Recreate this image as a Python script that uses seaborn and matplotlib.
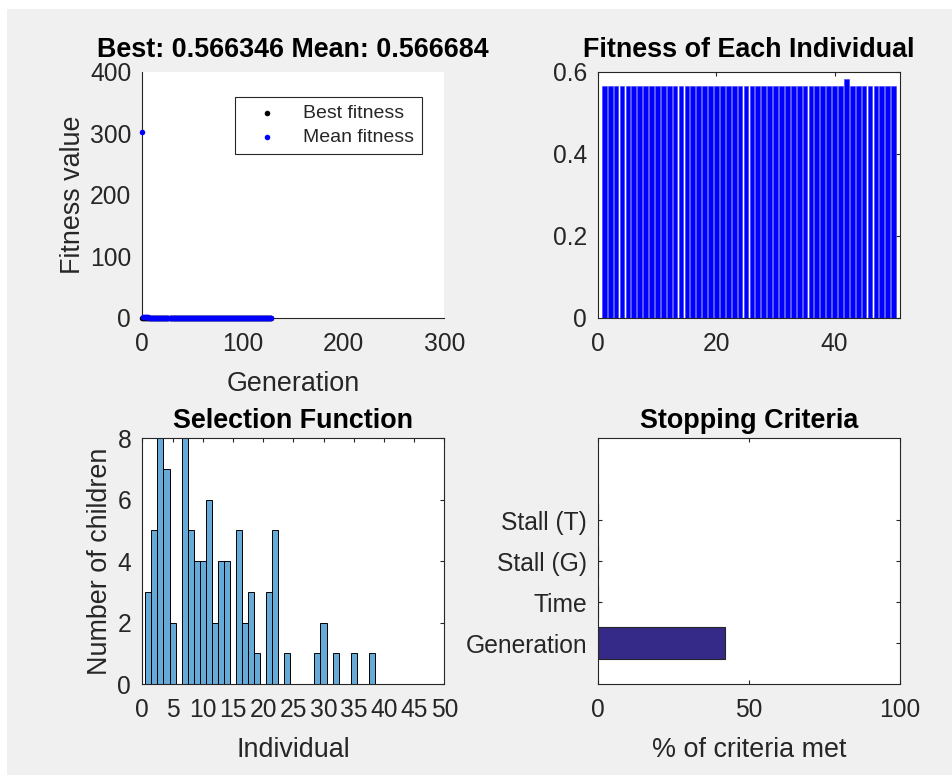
import matplotlib
matplotlib.use("Agg")
import matplotlib.pyplot as plt
from matplotlib.patches import Rectangle
import seaborn as sns

# ---- data ----
generation = list(range(0, 129))

best_fitness = [
    0.6734, 0.6412, 0.6189, 0.6051, 0.5963, 0.5902, 0.5857, 0.5821, 0.5794, 0.5772,
    0.5754, 0.5739, 0.5726, 0.5715, 0.5706, 0.5698, 0.5691, 0.5686, 0.5681, 0.5677,
    0.5674, 0.5672, 0.5670, 0.5669, 0.5668, 0.5667, 0.5666, 0.5665, 0.5665, 0.5664,
    0.5664, 0.5664, 0.5664, 0.5664, 0.5664, 0.5664, 0.5664, 0.5664, 0.5664, 0.5664,
    0.5664, 0.5664, 0.5664, 0.5664, 0.5664, 0.5664, 0.5664, 0.5664, 0.5664, 0.5664,
    0.5664, 0.5664, 0.5664, 0.5664, 0.5664, 0.5664, 0.5664, 0.5664, 0.5664, 0.5664,
    0.5663, 0.5663, 0.5663, 0.5663, 0.5663, 0.5663, 0.5663, 0.5663, 0.5663, 0.5663,
    0.5663, 0.5663, 0.5663, 0.5663, 0.5663, 0.5663, 0.5663, 0.5663, 0.5663, 0.5663,
    0.5663, 0.5663, 0.5663, 0.5663, 0.5663, 0.5663, 0.5663, 0.5663, 0.5663, 0.5663,
    0.5663, 0.5663, 0.5663, 0.5663, 0.5663, 0.5663, 0.5663, 0.5663, 0.5663, 0.5663,
    0.5663, 0.5663, 0.5663, 0.5663, 0.5663, 0.5663, 0.5663, 0.5663, 0.5663, 0.5663,
    0.5663, 0.5663, 0.5663, 0.5663, 0.5663, 0.5663, 0.5663, 0.5663, 0.5663, 0.5663,
    0.5663, 0.5663, 0.5663, 0.5663, 0.5663, 0.5663, 0.5663, 0.5663, 0.566346,
]

mean_fitness = [
    302.41, 1.874, 1.352, 1.118, 0.942, 0.851, 0.7913, 0.7494, 0.7126, 0.6741,
    0.6488, 0.6302, 0.6169, 0.6071, 0.5998, 0.5941, 0.5897, 0.5862, 0.5834, 0.5811,
    0.5793, 0.5778, 0.5765, 0.5754, 0.5745, 0.5737, 0.5731, 0.5725, 0.5720, 0.5716,
    0.5712, 0.5709, 0.5706, 0.5703, 0.5701, 0.5699, 0.5697, 0.5695, 0.5694, 0.5692,
    0.5691, 0.5690, 0.5689, 0.5688, 0.5687, 0.5686, 0.5685, 0.5684, 0.5683, 0.5682,
    0.5681, 0.5680, 0.5679, 0.5678, 0.5677, 0.5676, 0.5675, 0.5675, 0.5674, 0.5674,
    0.5673, 0.5673, 0.5672, 0.5672, 0.5671, 0.5671, 0.5671, 0.5670, 0.5670, 0.5670,
    0.5670, 0.5669, 0.5669, 0.5669, 0.5669, 0.5669, 0.5668, 0.5668, 0.5668, 0.5668,
    0.5668, 0.5668, 0.5668, 0.5668, 0.5668, 0.5667, 0.5667, 0.5667, 0.5667, 0.5667,
    0.5667, 0.5667, 0.5667, 0.5667, 0.5667, 0.5667, 0.5667, 0.5667, 0.5667, 0.5667,
    0.5667, 0.5667, 0.5667, 0.5667, 0.5667, 0.5667, 0.5667, 0.5667, 0.5667, 0.5667,
    0.5667, 0.5667, 0.5667, 0.5667, 0.5667, 0.5667, 0.5667, 0.5667, 0.5667, 0.5667,
    0.5667, 0.5667, 0.5667, 0.5667, 0.5667, 0.5667, 0.5667, 0.5667, 0.566684,
]

individual = list(range(1, 51))
individual_fitness = [
    0.566346, 0.566346, 0.566346, 0.566346, 0.566346, 0.566346, 0.566346, 0.566346, 0.566346, 0.566346,
    0.566346, 0.566346, 0.566346, 0.566346, 0.566346, 0.566346, 0.566346, 0.566346, 0.566346, 0.566346,
    0.566346, 0.566346, 0.566346, 0.566346, 0.566346, 0.566346, 0.566346, 0.566346, 0.566346, 0.566346,
    0.566346, 0.566346, 0.566346, 0.566346, 0.566346, 0.566346, 0.566346, 0.566346, 0.566346, 0.566346,
    0.566346, 0.583246, 0.566346, 0.566346, 0.566346, 0.566346, 0.566346, 0.566346, 0.566346, 0.566346,
]

parent_index = [1, 2, 3, 4, 5, 7, 8, 9, 10, 11, 12, 13, 14, 16, 17, 18, 19, 21, 22, 24, 29, 30, 32, 35, 38]
num_children = [3, 5, 8, 7, 2, 8, 5, 4, 4, 6, 2, 4, 4, 5, 2, 3, 1, 3, 5, 1, 1, 2, 1, 1, 1]

criteria = ["Stall (T)", "Stall (G)", "Time", "Generation"]
criteria_met = [0, 0, 0, 42.2]

# ---- style ----
sns.set_theme(style="white")
plt.rcParams["font.family"] = ["Liberation Sans", "DejaVu Sans"]
txt = "#262626"
plt.rcParams.update({
    "axes.edgecolor": txt,
    "axes.linewidth": 0.8,
    "xtick.color": txt,
    "ytick.color": txt,
    "xtick.labelcolor": txt,
    "ytick.labelcolor": txt,
    "axes.labelcolor": txt,
    "xtick.labelsize": 17.7,
    "ytick.labelsize": 17.7,
    "axes.labelsize": 19.4,
    "axes.labelpad": 11,
    "xtick.direction": "in",
    "ytick.direction": "in",
    "xtick.major.size": 3,
    "ytick.major.size": 3,
    "xtick.major.width": 0.8,
    "ytick.major.width": 0.8,
    "xtick.major.pad": 10,
    "ytick.major.pad": 8,
})

fig = plt.figure(figsize=(9.52, 7.75), dpi=100, facecolor="white")
fig.patches.append(Rectangle((7 / 952, 0), 1, 1 - 9 / 775, transform=fig.transFigure,
                             facecolor="#f0f0f0", edgecolor="none", zorder=-10))

ax1 = fig.add_axes([0.1495, 0.5897, 0.3172, 0.3174])
ax2 = fig.add_axes([0.6285, 0.5897, 0.3164, 0.3174])
ax3 = fig.add_axes([0.1495, 0.1174, 0.3172, 0.3174])
ax4 = fig.add_axes([0.6285, 0.1174, 0.3164, 0.3174])

top_title = dict(fontsize=19.4, fontweight="bold", color="black", pad=11)
bottom_title = dict(fontsize=19.4, fontweight="bold", color="black", pad=7.5)

# best / mean fitness per generation
sns.scatterplot(x=generation, y=best_fitness, ax=ax1, color="black", marker="o",
                s=16, linewidth=0, label="Best fitness", zorder=3)
sns.scatterplot(x=generation, y=mean_fitness, ax=ax1, color="blue", marker="o",
                s=16, linewidth=0, label="Mean fitness", zorder=4)
ax1.set_xlim(0, 300)
ax1.set_ylim(0, 400)
ax1.set_xticks([0, 100, 200, 300])
ax1.set_yticks([0, 100, 200, 300, 400])
ax1.set_xlabel("Generation")
ax1.set_ylabel("Fitness value", labelpad=3)
ax1.set_title("Best: 0.566346 Mean: 0.566684", **top_title)
ax1.spines["top"].set_visible(False)
ax1.spines["right"].set_visible(False)
for c in ax1.collections:
    c.set_clip_on(False)
leg = ax1.legend(loc="upper right", bbox_to_anchor=(0.925, 0.898), borderaxespad=0,
                 fontsize=14, frameon=True, fancybox=False, edgecolor=txt, framealpha=1,
                 borderpad=0.4, handlelength=2.5, handletextpad=0.6, labelspacing=0.3)
leg.get_frame().set_linewidth(0.8)

# fitness of each individual
sns.barplot(x=individual, y=individual_fitness, ax=ax2, native_scale=True,
            color="blue", saturation=1, width=0.8, edgecolor="#3a3aff", linewidth=0.4)
ax2.set_xlim(0, 51)
ax2.set_ylim(0, 0.6)
ax2.set_xticks([0, 20, 40])
ax2.set_yticks([0, 0.2, 0.4, 0.6])
ax2.set_yticklabels(["0", "0.2", "0.4", "0.6"])
ax2.set_xlabel("")
ax2.set_ylabel("")
ax2.set_title("Fitness of Each Individual", **top_title)
ax2.tick_params(top=True, right=True)

# selection function
sns.histplot(x=parent_index, weights=num_children, discrete=True, ax=ax3,
             color="#66aad7", alpha=1, edgecolor="black", linewidth=0.7)
ax3.set_xlim(0, 50)
ax3.set_ylim(0, 8)
ax3.set_xticks(list(range(0, 51, 5)))
ax3.set_yticks([0, 2, 4, 6, 8])
ax3.set_xlabel("Individual")
ax3.set_ylabel("Number of children", labelpad=3)
ax3.set_title("Selection Function", **bottom_title)
ax3.tick_params(top=True, right=True)

# stopping criteria
sns.barplot(x=criteria_met, y=criteria, orient="h", ax=ax4, color="#352a87",
            saturation=1, width=0.8, edgecolor="#262626", linewidth=0.8)
ax4.set_xlim(0, 100)
ax4.set_ylim(4, -2)
ax4.set_xticks([0, 50, 100])
ax4.set_xlabel("% of criteria met")
ax4.set_ylabel("")
ax4.set_title("Stopping Criteria", **bottom_title)
ax4.tick_params(top=True, right=True, left=True, bottom=True)

for ax in (ax1, ax2, ax3, ax4):
    ax.set_facecolor("white")

fig.savefig("out.png", dpi=100, facecolor=fig.get_facecolor())
